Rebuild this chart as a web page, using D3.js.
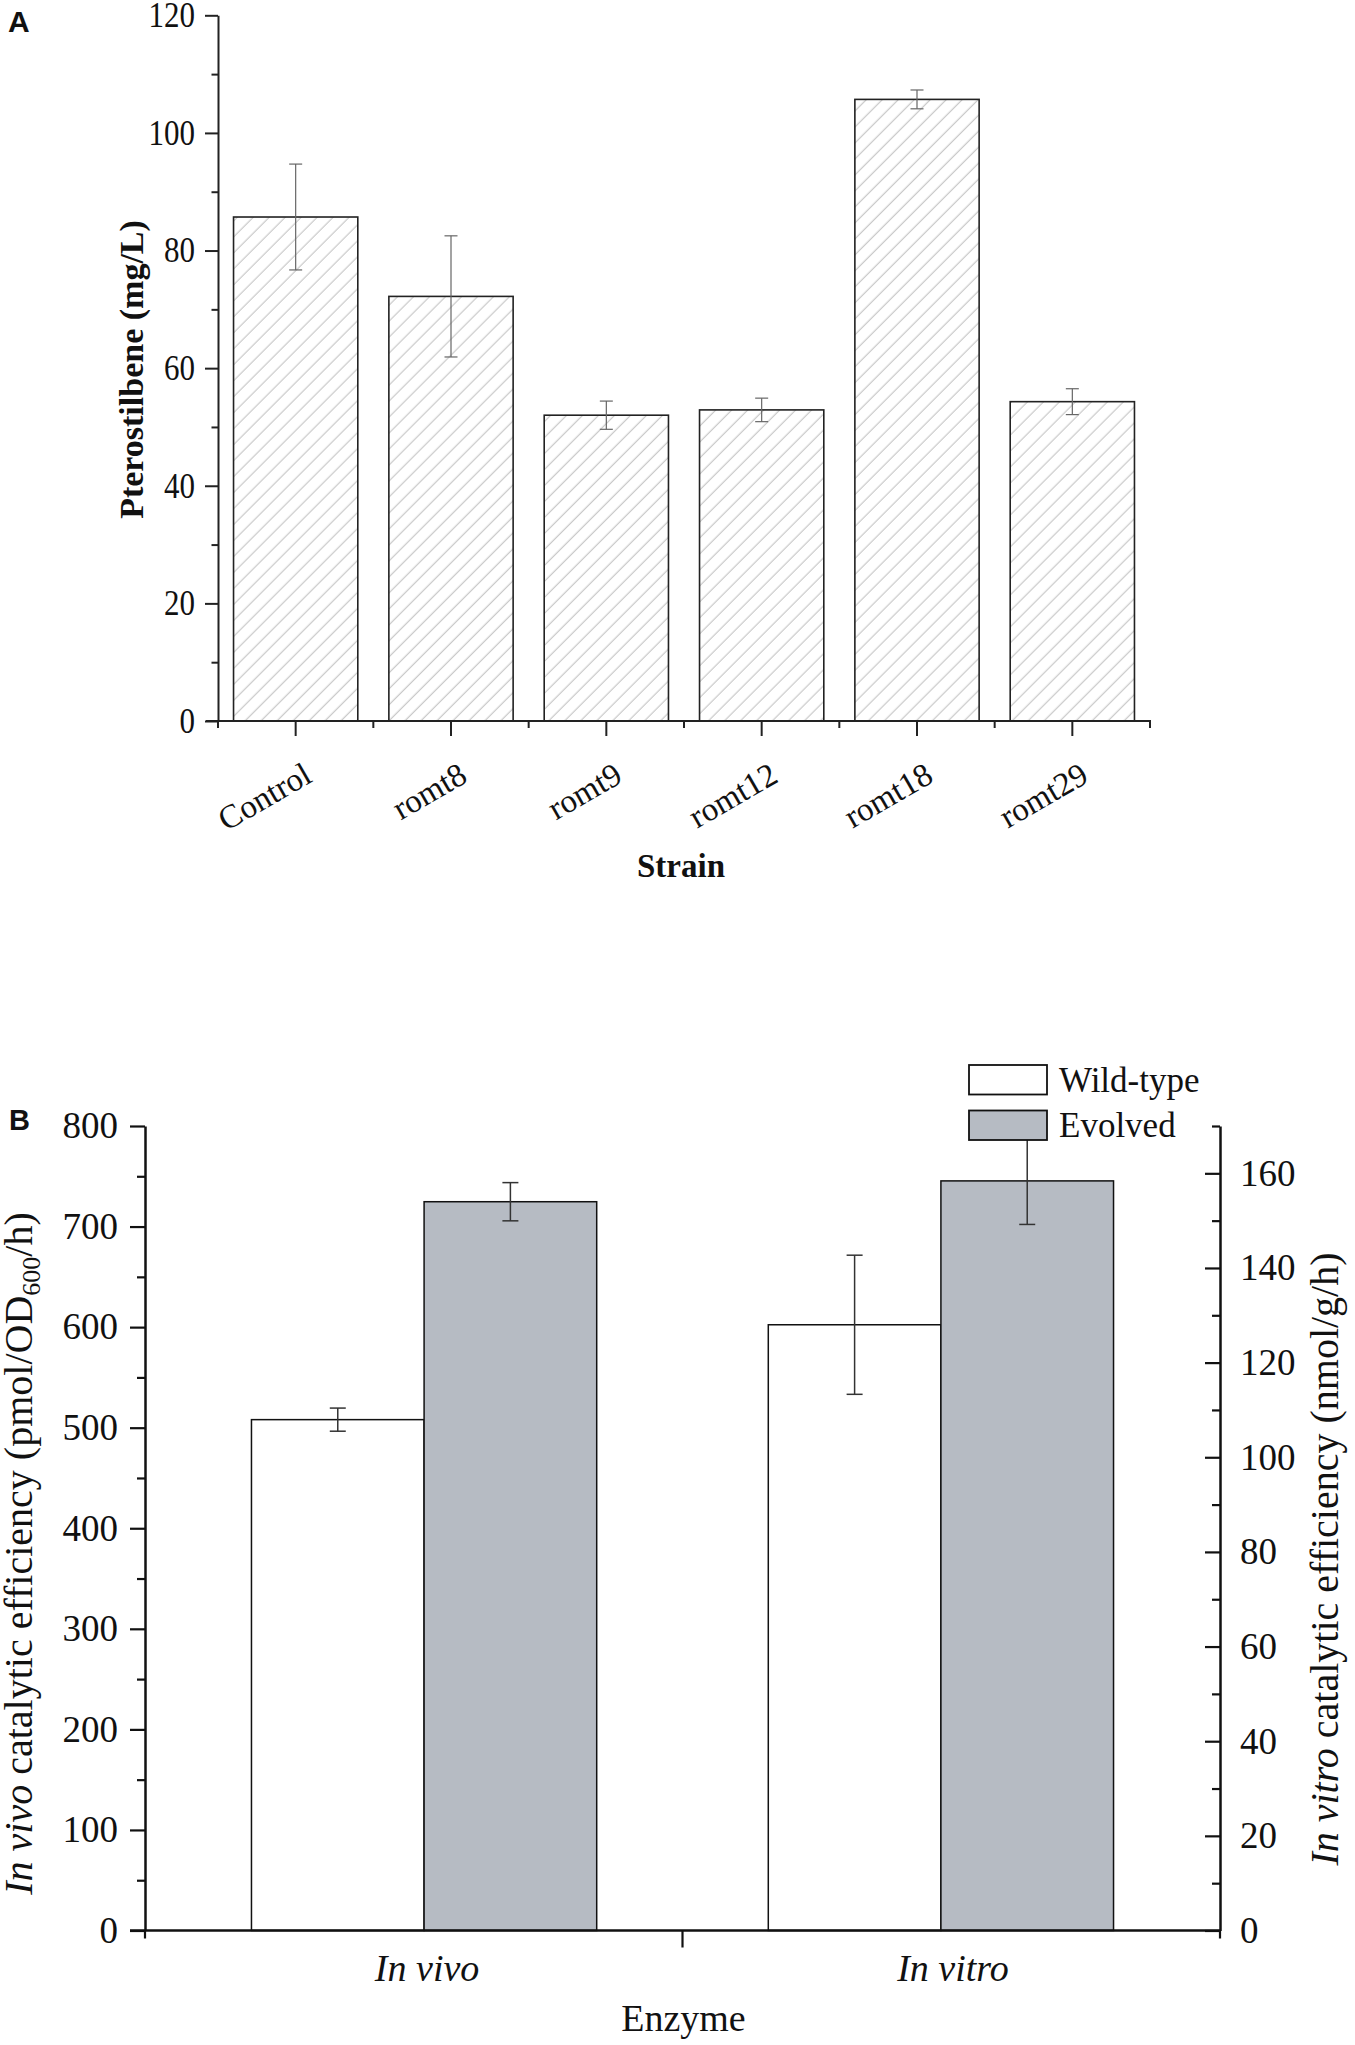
<!DOCTYPE html>
<html>
<head>
<meta charset="utf-8">
<script src="https://cdn.jsdelivr.net/npm/d3@7/dist/d3.min.js"></script>
<style>
  html, body { margin: 0; padding: 0; background: #fff; }
  svg { display: block; }
  text { font-family: "Liberation Serif", "Times New Roman", serif; fill: #111; }
</style>
</head>
<body>
<svg id="chart" width="1355" height="2045"></svg>
<script>
// ---------- Panel A data ----------
const strains = ["Control", "romt8", "romt9", "romt12", "romt18", "romt29"];
const pteroMean = [85.7, 72.2, 52.0, 52.9, 105.7, 54.3];
const pteroErr = [9.0, 10.3, 2.4, 2.0, 1.6, 2.2];
const yTicksA = [0, 20, 40, 60, 80, 100, 120];
const yMinorA = [10, 30, 50, 70, 90, 110];

// ---------- Panel B data ----------
const enzymes = ["In vivo", "In vitro"];
const seriesB = ["Wild-type", "Evolved"];
const wildType = [508, 128.0];      // In vivo on left axis, In vitro on right axis
const evolved = [724.7, 158.4];
const wildErr = [11.5, 14.7];
const evolvedErr = [19, 9.2];
const yTicksL = [0, 100, 200, 300, 400, 500, 600, 700, 800];
const yMinorL = [50, 150, 250, 350, 450, 550, 650, 750];
const yTicksR = [0, 20, 40, 60, 80, 100, 120, 140, 160];
const yMinorR = [10, 30, 50, 70, 90, 110, 130, 150, 170];

const svg = d3.select("#chart");
const defs = svg.append("defs");
const pat = defs.append("pattern")
  .attr("id", "hatch")
  .attr("patternUnits", "userSpaceOnUse")
  .attr("width", 11.3).attr("height", 11.3)
  .attr("patternTransform", "rotate(45)");
pat.append("rect").attr("width", 11.3).attr("height", 11.3).attr("fill", "#fff");
pat.append("line").attr("x1", 5).attr("y1", 0).attr("x2", 5).attr("y2", 11.3)
  .attr("stroke", "#c4c4c4").attr("stroke-width", 1.1);

// ================= PANEL A =================
const gA = svg.append("g");
const xA = d3.scaleBand().domain(strains).range([218, 1150]).paddingInner(0.2).paddingOuter(0.1);
const yA = d3.scaleLinear().domain([0, 120]).range([721, 15.3]);
const stepA = xA.step();

// bars
gA.selectAll("rect.bar").data(strains).enter().append("rect")
  .attr("x", d => xA(d)).attr("width", xA.bandwidth())
  .attr("y", (d, i) => yA(pteroMean[i]))
  .attr("height", (d, i) => yA(0) - yA(pteroMean[i]))
  .attr("fill", "url(#hatch)").attr("stroke", "#222").attr("stroke-width", 1.6);

// error bars
strains.forEach((s, i) => {
  const cx = xA(s) + xA.bandwidth() / 2;
  const y1 = yA(pteroMean[i] + pteroErr[i]), y2 = yA(pteroMean[i] - pteroErr[i]);
  const g = gA.append("g").attr("stroke", "#666").attr("stroke-width", 1.2);
  g.append("line").attr("x1", cx).attr("x2", cx).attr("y1", y1).attr("y2", y2);
  g.append("line").attr("x1", cx - 6.5).attr("x2", cx + 6.5).attr("y1", y1).attr("y2", y1);
  g.append("line").attr("x1", cx - 6.5).attr("x2", cx + 6.5).attr("y1", y2).attr("y2", y2);
});

// y axis
const yAxisA = d3.axisLeft(yA).tickValues(yTicksA).tickSize(13).tickPadding(10).tickSizeOuter(0);
const gyA = gA.append("g").attr("transform", "translate(218,0)").call(yAxisA);
gyA.select(".domain").attr("stroke", "#222").attr("stroke-width", 2);
gyA.selectAll(".tick line").attr("stroke", "#222").attr("stroke-width", 2);
gyA.selectAll(".tick text").attr("font-size", 31).attr("fill", "#111")
  .attr("transform", "scale(1,1.15)");
gA.append("g").attr("transform", "translate(218,0)")
  .call(d3.axisLeft(yA).tickValues(yMinorA).tickSize(6.5).tickFormat("").tickSizeOuter(0))
  .call(g => { g.select(".domain").remove(); g.selectAll("line").attr("stroke", "#222").attr("stroke-width", 2); });

// x axis
gA.append("line").attr("x1", 206).attr("x2", 1151).attr("y1", yA(0)).attr("y2", yA(0))
  .attr("stroke", "#222").attr("stroke-width", 2);
const bounds = d3.range(strains.length + 1).map(i => 218 + i * stepA);
gA.selectAll("line.xminA").data(bounds).enter().append("line")
  .attr("x1", d => d).attr("x2", d => d).attr("y1", yA(0)).attr("y2", yA(0) + 7)
  .attr("stroke", "#222").attr("stroke-width", 2);
gA.selectAll("line.xmajA").data(strains).enter().append("line")
  .attr("x1", d => xA(d) + xA.bandwidth() / 2).attr("x2", d => xA(d) + xA.bandwidth() / 2)
  .attr("y1", yA(0)).attr("y2", yA(0) + 15)
  .attr("stroke", "#222").attr("stroke-width", 2);
gA.selectAll("text.xlabA").data(strains).enter().append("text")
  .attr("text-anchor", "end").attr("font-size", 33)
  .attr("transform", d => `translate(${xA(d) + xA.bandwidth() / 2 + 18},781) rotate(-30)`)
  .text(d => d);

// titles
gA.append("text").attr("text-anchor", "middle").attr("font-size", 33).attr("font-weight", "bold")
  .attr("x", 681).attr("y", 877).text("Strain");
gA.append("text").attr("text-anchor", "middle").attr("font-size", 34).attr("font-weight", "bold")
  .attr("transform", "translate(143,369.5) rotate(-90)").text("Pterostilbene (mg/L)");
svg.append("text").attr("x", 8).attr("y", 31.7).attr("font-size", 30).attr("font-weight", "bold")
  .style("font-family", "'Liberation Sans', Arial, sans-serif").text("A");

// ================= PANEL B =================
const gB = svg.append("g");
const yL = d3.scaleLinear().domain([0, 800]).range([1930.5, 1126]);
const yR = d3.scaleLinear().domain([0, 170]).range([1930.5, 1126]);
const xB = d3.scaleLinear().domain([0.46, 2.54]).range([145, 1220]);
const subB = d3.scaleBand().domain(seriesB).range([-0.334, 0.334]);
const yScales = [yL, yR];
const fills = { "Wild-type": "#ffffff", "Evolved": "#b6bbc3" };

enzymes.forEach((e, i) => {
  const ys = yScales[i];
  const vals = [wildType[i], evolved[i]];
  const errs = [wildErr[i], evolvedErr[i]];
  seriesB.forEach((s, j) => {
    const x0 = xB(i + 1 + subB(s)), x1 = xB(i + 1 + subB(s) + subB.bandwidth());
    gB.append("rect").attr("x", x0).attr("width", x1 - x0)
      .attr("y", ys(vals[j])).attr("height", ys(0) - ys(vals[j]))
      .attr("fill", fills[s]).attr("stroke", "#111").attr("stroke-width", 1.5);
  });
  seriesB.forEach((s, j) => {
    const cx = xB(i + 1 + subB(s) + subB.bandwidth() / 2);
    const y1 = ys(vals[j] + errs[j]), y2 = ys(vals[j] - errs[j]);
    const g = gB.append("g").attr("stroke", "#333").attr("stroke-width", 1.5);
    g.append("line").attr("x1", cx).attr("x2", cx).attr("y1", y1).attr("y2", y2);
    g.append("line").attr("x1", cx - 8).attr("x2", cx + 8).attr("y1", y1).attr("y2", y1);
    g.append("line").attr("x1", cx - 8).attr("x2", cx + 8).attr("y1", y2).attr("y2", y2);
  });
});

// left axis
const gyL = gB.append("g").attr("transform", "translate(145,0)")
  .call(d3.axisLeft(yL).tickValues(yTicksL).tickSize(15).tickPadding(12).tickSizeOuter(0));
gyL.select(".domain").attr("stroke", "#111").attr("stroke-width", 2.5);
gyL.selectAll(".tick line").attr("stroke", "#111").attr("stroke-width", 2.2);
gyL.selectAll(".tick text").attr("font-size", 37).attr("fill", "#111");
gB.append("g").attr("transform", "translate(145,0)")
  .call(d3.axisLeft(yL).tickValues(yMinorL).tickSize(8).tickFormat("").tickSizeOuter(0))
  .call(g => { g.select(".domain").remove(); g.selectAll("line").attr("stroke", "#111").attr("stroke-width", 2.2); });

// right axis (ticks point inward)
const gyR = gB.append("g").attr("transform", "translate(1220,0)")
  .call(d3.axisRight(yR).tickValues(yTicksR).tickSize(-15).tickPadding(20).tickSizeOuter(0));
gyR.select(".domain").attr("stroke", "#111").attr("stroke-width", 2.5);
gyR.selectAll(".tick line").attr("stroke", "#111").attr("stroke-width", 2.2);
gyR.selectAll(".tick text").attr("font-size", 37).attr("fill", "#111");
gB.append("g").attr("transform", "translate(1220,0)")
  .call(d3.axisRight(yR).tickValues(yMinorR).tickSize(-8).tickFormat("").tickSizeOuter(0))
  .call(g => { g.select(".domain").remove(); g.selectAll("line").attr("stroke", "#111").attr("stroke-width", 2.2); });

// x axis
gB.append("line").attr("x1", 130).attr("x2", 1221).attr("y1", yL(0)).attr("y2", yL(0))
  .attr("stroke", "#111").attr("stroke-width", 2.5);
[xB.domain()[0], xB.domain()[1]].forEach(v => {
  gB.append("line").attr("x1", xB(v)).attr("x2", xB(v)).attr("y1", yL(0)).attr("y2", yL(0) + 8)
    .attr("stroke", "#111").attr("stroke-width", 2.2);
});
gB.append("line").attr("x1", xB(1.5)).attr("x2", xB(1.5)).attr("y1", yL(0)).attr("y2", yL(0) + 17)
  .attr("stroke", "#111").attr("stroke-width", 2.2);
gB.selectAll("text.xlabB").data(enzymes).enter().append("text")
  .attr("text-anchor", "middle").attr("font-size", 38).attr("font-style", "italic")
  .attr("x", (d, i) => xB(i + 1) + 3 + i * 9).attr("y", 1981).text(d => d);

gB.append("text").attr("text-anchor", "middle").attr("font-size", 38)
  .attr("x", 683.5).attr("y", 2031).text("Enzyme");

// left title
const tL = gB.append("text").attr("text-anchor", "middle").attr("font-size", 40)
  .attr("transform", "translate(32,1553.5) rotate(-90)");
tL.append("tspan").attr("font-style", "italic").text("In vivo");
tL.append("tspan").text(" catalytic efficiency (pmol/OD");
tL.append("tspan").attr("font-size", 26).attr("dy", 8).text("600");
tL.append("tspan").attr("dy", -8).text("/h)");

// right title
const tR = gB.append("text").attr("text-anchor", "middle").attr("font-size", 40)
  .attr("transform", "translate(1338,1559) rotate(-90)");
tR.append("tspan").attr("font-style", "italic").text("In vitro");
tR.append("tspan").text(" catalytic efficiency (nmol/g/h)");

// legend
const leg = gB.append("g");
seriesB.forEach((s, j) => {
  const yTop = 1065 + j * 45.5;
  leg.append("rect").attr("x", 969).attr("y", yTop).attr("width", 78).attr("height", 29.5)
    .attr("fill", fills[s]).attr("stroke", "#111").attr("stroke-width", 1.8);
  leg.append("text").attr("x", 1059).attr("y", yTop + 26.5).attr("font-size", 35).text(s);
});

svg.append("text").attr("x", 9).attr("y", 1130).attr("font-size", 29).attr("font-weight", "bold")
  .style("font-family", "'Liberation Sans', Arial, sans-serif").text("B");
</script>
</body>
</html>
